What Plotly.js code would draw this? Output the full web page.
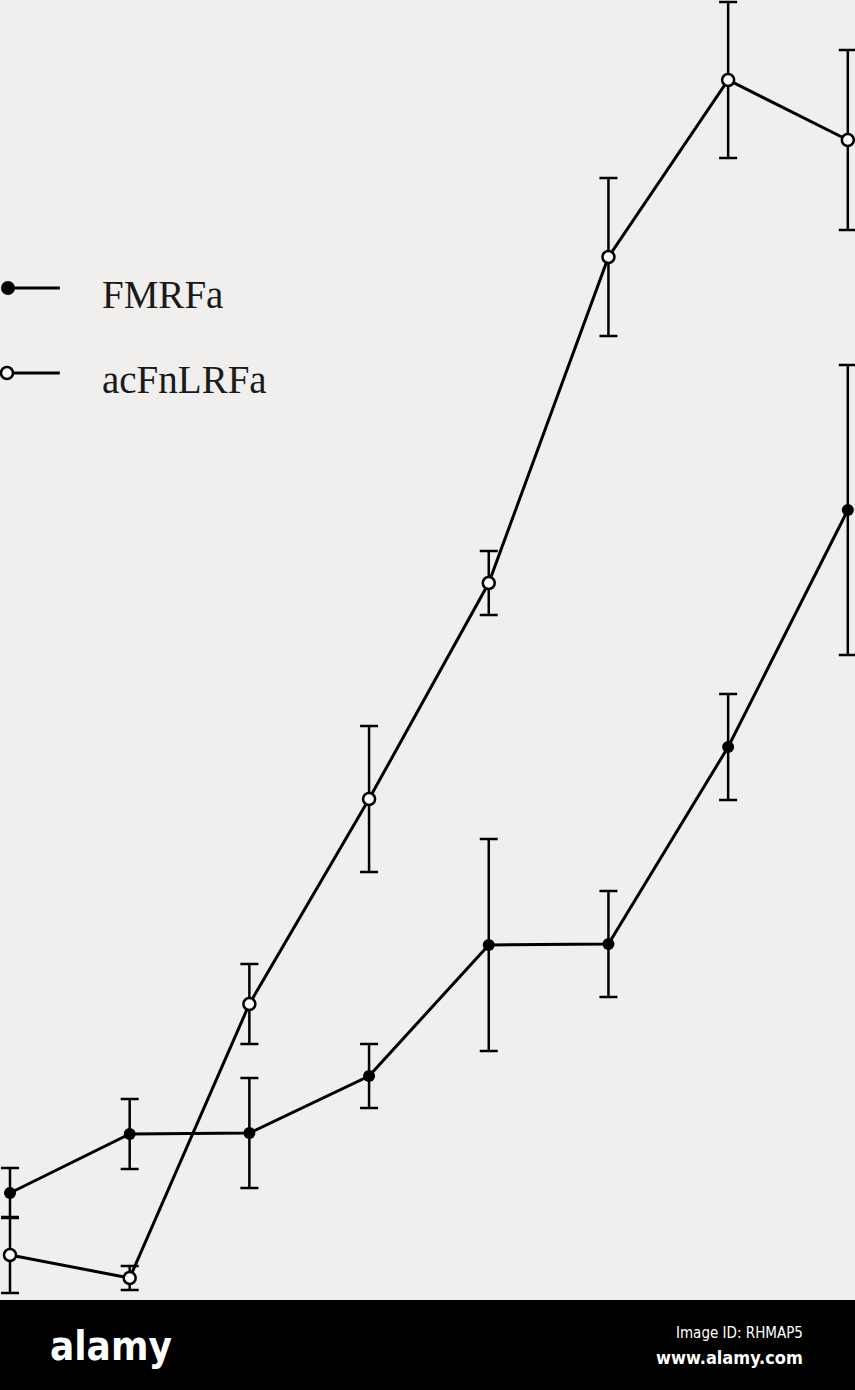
<!DOCTYPE html>
<html>
<head>
<meta charset="utf-8">
<script src="https://cdn.plot.ly/plotly-3.0.1.min.js"></script>
<style>html,body{margin:0;padding:0;background:#000;}#chart{width:855px;height:1390px;}</style>
</head>
<body>
<div id="chart"></div>
<script>
// Dose steps (no axis labels visible in the cropped figure)
var doses = [0, 1, 2, 3, 4, 5, 6, 7];
// FMRFa (filled circles)
var fmrfa = [10.7, 16.6, 16.7, 22.4, 35.5, 35.6, 55.3, 79.0];
var fmrfaErr = [2.5, 3.5, 5.5, 3.2, 10.6, 5.3, 5.3, 14.5];
// acFnLRFa (open circles)
var acfnlrfa = [4.5, 2.2, 29.6, 50.1, 71.7, 104.3, 122.0, 116.0];
var acfnlrfaErr = [3.8, 1.2, 4.0, 7.3, 3.2, 7.9, 7.8, 9.0];
var seriesNames = ["FMRFa", "acFnLRFa"];

var bg = '#f0efed';
var traces = [
  {
    x: doses, y: fmrfa, name: seriesNames[0], type: 'scatter', mode: 'lines+markers',
    line: {color: '#000', width: 3},
    marker: {symbol: 'circle', size: 12, color: '#000'},
    error_y: {type: 'data', array: fmrfaErr, visible: true, color: '#000', thickness: 2.5, width: 9},
    cliponaxis: false, showlegend: false
  },
  {
    x: doses, y: acfnlrfa, name: seriesNames[1], type: 'scatter', mode: 'lines+markers',
    line: {color: '#000', width: 3},
    marker: {symbol: 'circle', size: 12, color: '#fafafa', line: {color: '#000', width: 2.5}},
    error_y: {type: 'data', array: acfnlrfaErr, visible: true, color: '#000', thickness: 2.5, width: 9},
    cliponaxis: false, showlegend: false
  }
];

var layout = {
  width: 855, height: 1390,
  margin: {l: 0, r: 0, t: 0, b: 90, pad: 0},
  paper_bgcolor: '#000',
  plot_bgcolor: bg,
  showlegend: false,
  xaxis: {range: [-0.0835, 7.06], visible: false, fixedrange: true},
  yaxis: {range: [0, 130], visible: false, fixedrange: true},
  shapes: [
    {type: 'line', xref: 'paper', yref: 'paper', x0: 0.006, x1: 0.070, y0: 1 - 288/1300, y1: 1 - 288/1300, line: {color: '#000', width: 3}},
    {type: 'line', xref: 'paper', yref: 'paper', x0: 0.006, x1: 0.070, y0: 1 - 373/1300, y1: 1 - 373/1300, line: {color: '#000', width: 3}}
  ],
  annotations: [
    {xref: 'paper', yref: 'paper', x: 100/855, y: 1 - 295/1300, xanchor: 'left', yanchor: 'middle', showarrow: false,
     text: seriesNames[0], font: {family: 'Liberation Serif, Times New Roman, serif', size: 39, color: '#1a1a1a'}},
    {xref: 'paper', yref: 'paper', x: 100/855, y: 1 - 379/1300, xanchor: 'left', yanchor: 'middle', showarrow: false,
     text: seriesNames[1], font: {family: 'Liberation Serif, Times New Roman, serif', size: 39, color: '#1a1a1a'}},
    {xref: 'paper', yref: 'paper', x: 48/855, y: -46/1300, xanchor: 'left', yanchor: 'middle', showarrow: false,
     text: '<b>alamy</b>', font: {family: 'DejaVu Sans Condensed, DejaVu Sans, sans-serif', size: 40, color: '#fff'}},
    {xref: 'paper', yref: 'paper', x: 805/855, y: -33/1300, xanchor: 'right', yanchor: 'middle', showarrow: false,
     text: 'Image ID: RHMAP5', font: {family: 'DejaVu Sans Condensed, DejaVu Sans, sans-serif', size: 15, color: '#fff'}},
    {xref: 'paper', yref: 'paper', x: 805/855, y: -57/1300, xanchor: 'right', yanchor: 'middle', showarrow: false,
     text: '<b>www.alamy.com</b>', font: {family: 'DejaVu Sans Condensed, DejaVu Sans, sans-serif', size: 18, color: '#fff'}}
  ]
};

// legend markers
layout.shapes.push(
  {type: 'circle', xref: 'paper', yref: 'paper', x0: 2/855, x1: 14/855, y0: 1 - 294/1300, y1: 1 - 282/1300, fillcolor: '#000', line: {color: '#000', width: 2}},
  {type: 'circle', xref: 'paper', yref: 'paper', x0: 1/855, x1: 13/855, y0: 1 - 379/1300, y1: 1 - 367/1300, fillcolor: '#fafafa', line: {color: '#000', width: 2.5}}
);

Plotly.newPlot('chart', traces, layout, {displayModeBar: false, staticPlot: true});
</script>
</body>
</html>
